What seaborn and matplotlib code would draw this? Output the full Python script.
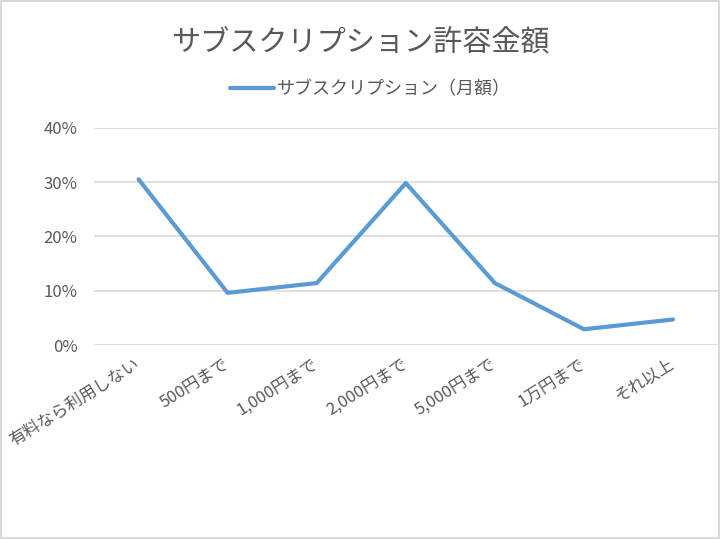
"""
Line chart of the monthly subscription price people accept
(サブスクリプション許容金額), drawn in the style of an Excel chart.
"""
import pandas as pd
import matplotlib.pyplot as plt
import seaborn as sns
from matplotlib.ticker import PercentFormatter

TITLE = "サブスクリプション許容金額"
SERIES_NAME = "サブスクリプション（月額）"

categories = ["有料なら利用しない", "500円まで", "1,000円まで", "2,000円まで",
              "5,000円まで", "1万円まで", "それ以上"]
ratios = [0.305, 0.096, 0.114, 0.298, 0.114, 0.029, 0.047]
y_ticks = [0.0, 0.1, 0.2, 0.3, 0.4]

LINE_COLOR = "#5B9BD5"
TEXT_COLOR = "#595959"
GRID_COLOR = "#D9D9D9"


def draw_chart(df):
    """
    Takes a dataframe 'df' with 'category' and 'ratio' columns and
    draws the line chart, then saves it as out.png.
    """
    fig = plt.figure(figsize=(7.2, 5.39), dpi=100,
                     edgecolor=GRID_COLOR, linewidth=1.5)
    ax = fig.add_axes([0.1306, 0.3599, 0.866, 0.4032])

    sns.lineplot(data=df, x="category", y="ratio", sort=False, ax=ax,
                 color=LINE_COLOR, linewidth=3, solid_capstyle="round",
                 label=SERIES_NAME, legend=False)

    # axes look
    ax.set_xlim(-0.5, len(categories) - 0.5)
    ax.set_ylim(0, 0.4)
    ax.set_yticks(y_ticks)
    ax.yaxis.set_major_formatter(PercentFormatter(1.0, decimals=0))
    ax.grid(axis="y", color=GRID_COLOR, linewidth=1.2)
    ax.grid(axis="x", visible=False)
    for side in ["top", "right", "left", "bottom"]:
        ax.spines[side].set_visible(False)
    ax.set_xlabel("")
    ax.set_ylabel("")
    ax.tick_params(axis="y", length=0, pad=12, labelsize=12,
                   labelcolor=TEXT_COLOR)
    ax.tick_params(axis="x", length=0, pad=13, labelsize=12,
                   labelcolor=TEXT_COLOR)
    for label in ax.get_xticklabels():
        label.set_rotation(32)
        label.set_ha("right")
        label.set_va("center")
        label.set_rotation_mode("anchor")

    # title and legend
    fig.text(0.5, 0.922, TITLE, ha="center", va="center", fontsize=21,
             color=TEXT_COLOR)
    handles, labels = ax.get_legend_handles_labels()
    fig.legend(handles, labels, loc="center", bbox_to_anchor=(0.515, 0.835),
               frameon=False, fontsize=13, labelcolor=TEXT_COLOR,
               handlelength=2.4, handletextpad=0.2)

    fig.savefig("out.png", dpi=100, edgecolor=fig.get_edgecolor())


def main():
    sns.set_theme(style="white")
    plt.rcParams["font.family"] = ["Noto Sans CJK JP", "DejaVu Sans"]
    df = pd.DataFrame({"category": categories, "ratio": ratios})
    draw_chart(df)


if __name__ == '__main__':
    main()
